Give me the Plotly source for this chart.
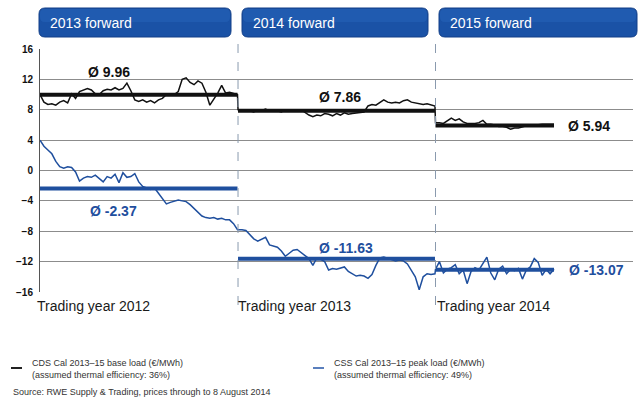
import plotly.graph_objects as go
import pandas as pd

# ---------------- data ----------------
periods = ["2013 forward", "2014 forward", "2015 forward"]
trading_years = ["Trading year 2012", "Trading year 2013", "Trading year 2014"]
section_start = ["2012-01-01", "2013-01-01", "2014-01-01"]
section_end = ["2012-12-31", "2013-12-31", "2014-08-08"]
y_ticks = [16, 12, 8, 4, 0, -4, -8, -12, -16]

cds_2013 = [10.0, 9.0, 8.7, 8.8, 8.6, 9.0, 9.2, 8.9, 10.1, 9.5, 10.4, 10.6, 10.8, 10.6, 10.1, 10.0, 10.5,
            10.7, 10.6, 10.9, 10.6, 10.8, 11.5, 10.5, 9.3, 9.1, 9.3, 9.0, 9.2, 8.9, 9.3, 9.5, 10.0, 10.1,
            10.0, 10.4, 12.0, 12.2, 11.6, 11.3, 11.8, 11.5, 10.3, 8.6, 9.4, 10.2, 11.2, 10.2, 10.3, 10.1, 10.0]
cds_2014 = [8.0, 7.8, 8.0, 7.9, 7.7, 8.0, 7.9, 8.1, 7.8, 8.0, 7.9, 7.7, 8.0, 7.9, 8.0, 7.8, 8.0, 7.6,
            7.3, 7.1, 7.3, 7.2, 7.5, 7.4, 7.2, 7.5, 7.3, 7.6, 7.4, 7.5, 7.6, 7.7, 7.7, 8.5, 8.7, 8.6, 8.9,
            9.3, 9.0, 8.9, 9.0, 8.9, 9.2, 9.3, 9.0, 8.9, 8.8, 8.7, 8.8, 8.6, 8.5]
cds_2015 = [6.3, 6.3, 6.2, 6.5, 6.9, 6.6, 6.8, 6.4, 6.2, 6.2, 6.2, 6.3, 6.6, 6.1, 6.1, 6.0, 5.8, 5.8,
            5.7, 5.45, 5.6, 5.6, 5.8, 5.9, 5.9, 6.0, 6.1, 6.1, 6.1, 6.1, 6.1]

css_2013 = [4.0, 3.2, 2.7, 2.2, 1.2, 0.5, 0.3, 0.5, 0.4, -0.2, -1.4, -1.0, -0.8, -0.9, -0.6, -1.1, -1.5,
            -0.8, -1.0, -0.5, -1.6, -0.3, -0.9, -0.8, -0.4, -1.5, -2.1, -2.3, -2.5, -2.3, -3.0, -3.6, -4.4,
            -4.2, -4.1, -3.9, -4.0, -4.1, -4.5, -5.0, -5.6, -6.0, -6.2, -6.3, -6.2, -6.4, -6.3, -6.5, -6.5,
            -7.0, -7.8]
css_2014 = [-7.8, -7.8, -7.9, -8.5, -9.0, -9.3, -9.0, -8.8, -9.8, -9.9, -10.1, -10.6, -11.3, -10.9, -10.5,
            -10.4, -10.8, -11.3, -11.6, -12.5, -11.5, -11.7, -12.0, -13.1, -12.9, -13.0, -12.9, -12.7, -13.3,
            -13.6, -13.9, -13.8, -13.9, -14.2, -13.7, -12.5, -11.5, -11.4, -11.6, -11.7, -11.9, -11.8, -11.9,
            -12.3, -13.2, -14.0, -15.7, -14.0, -13.6, -13.7, -13.6]
css_2015 = [-13.0, -12.0, -13.5, -13.0, -12.8, -12.4, -13.6, -13.1, -14.9, -13.3, -12.8, -13.1, -12.2,
            -11.4, -13.5, -14.4, -13.0, -12.6, -13.6, -13.0, -13.2, -12.9, -14.3, -13.1, -12.7, -11.6,
            -12.1, -13.8, -13.0, -13.6, -13.0]

cds_means = [9.96, 7.86, 5.94]
css_means = [-2.37, -11.63, -13.07]

legend_cds = "CDS Cal 2013–15 base load (€/MWh)<br>(assumed thermal efficiency: 36%)"
legend_css = "CSS Cal 2013–15 peak load (€/MWh)<br>(assumed thermal efficiency: 49%)"
source_text = "Source: RWE Supply & Trading, prices through to 8 August 2014"

# ---------------- styling ----------------
BLACK = "#111111"
BLUE = "#1f4f9e"
BOX = "#1a52a6"
BOX_TOP = "#2462b8"
FONT = "Liberation Sans, Arial, sans-serif"

W, H = 640, 399
L, R, T, B = 40, 7, 49, 107
PW, PH = W - L - R, H - T - B


def px(x):
    return (x - L) / PW


def py(y):
    return (H - B - y) / PH


cds_sections = [cds_2013, cds_2014, cds_2015]
css_sections = [css_2013, css_2014, css_2015]

x_all, cds_all, css_all = [], [], []
for s, e, c, b in zip(section_start, section_end, cds_sections, css_sections):
    d = pd.date_range(s, e, periods=len(c))
    x_all += list(d)
    cds_all += c
    css_all += b

fig = go.Figure()
fig.add_trace(go.Scatter(x=x_all, y=cds_all, mode="lines", line=dict(color=BLACK, width=1.5),
                         showlegend=False, hoverinfo="skip"))
fig.add_trace(go.Scatter(x=x_all, y=css_all, mode="lines", line=dict(color=BLUE, width=1.5),
                         showlegend=False, hoverinfo="skip"))
for s, e, m in zip(section_start, section_end, cds_means):
    fig.add_trace(go.Scatter(x=[s, e], y=[m, m], mode="lines", line=dict(color=BLACK, width=4),
                             showlegend=False, hoverinfo="skip"))
for s, e, m in zip(section_start, section_end, css_means):
    fig.add_trace(go.Scatter(x=[s, e], y=[m, m], mode="lines", line=dict(color=BLUE, width=4),
                             showlegend=False, hoverinfo="skip"))

shapes = []
# dashed dividers
for d in section_start[1:]:
    shapes.append(dict(type="line", xref="x", yref="paper", x0=d, x1=d, y0=py(305), y1=py(40),
                       line=dict(color="#8a9aae", width=1, dash="dash"), layer="above"))


def rounded(x0, x1, top, bot, r):
    rx, ry = r / PW, r / PH
    X0, X1, Y0, Y1 = px(x0), px(x1), py(bot), py(top)
    return (f"M {X0+rx},{Y1} L {X1-rx},{Y1} Q {X1},{Y1} {X1},{Y1-ry} L {X1},{Y0+ry} "
            f"Q {X1},{Y0} {X1-rx},{Y0} L {X0+rx},{Y0} Q {X0},{Y0} {X0},{Y0+ry} "
            f"L {X0},{Y1-ry} Q {X0},{Y1} {X0+rx},{Y1} Z")


# header boxes (rounded, with lighter upper part)
boxes = [(39, 231), (242, 428), (439, 637)]
for (x0, x1) in boxes:
    shapes.append(dict(type="path", xref="paper", yref="paper", path=rounded(x0, x1, 8, 37, 6),
                       fillcolor=BOX, line=dict(color="#123f88", width=1), layer="above"))
    shapes.append(dict(type="path", xref="paper", yref="paper", path=rounded(x0 + 1, x1 - 1, 9, 22, 5),
                       fillcolor=BOX_TOP, opacity=0.6, line=dict(width=0), layer="above"))

# legend dashes
shapes.append(dict(type="line", xref="paper", yref="paper", x0=px(11), x1=px(22), y0=py(368), y1=py(368),
                   line=dict(color="#222222", width=2)))
shapes.append(dict(type="line", xref="paper", yref="paper", x0=px(313), x1=px(324), y0=py(368), y1=py(368),
                   line=dict(color="#5a7fbd", width=2)))

ann = []
for (x0, x1), t in zip(boxes, periods):
    ann.append(dict(text=t, xref="paper", yref="paper", x=px(x0 + 9), y=py(23), xanchor="left",
                    yanchor="middle", showarrow=False, font=dict(family=FONT, size=14, color="white")))

tx = [35, 236, 435]
for x, t in zip(tx, trading_years):
    ann.append(dict(text=t, xref="paper", yref="paper", x=px(x), y=py(306), xanchor="left",
                    yanchor="middle", showarrow=False, font=dict(family=FONT, size=14, color="#1a1a1a")))

cds_lab_pos = [(109, 72), (340, 96.5), (589, 126)]
css_lab_pos = [(113, 211), (346, 247.5), (596, 270)]
for (x, y), m in zip(cds_lab_pos, cds_means):
    ann.append(dict(text=f"Ø {m:.2f}", xref="paper", yref="paper", x=px(x), y=py(y), xanchor="center",
                    yanchor="middle", showarrow=False,
                    font=dict(family=FONT, size=14, color=BLACK, weight="bold")))
for (x, y), m in zip(css_lab_pos, css_means):
    ann.append(dict(text=f"Ø {m:.2f}", xref="paper", yref="paper", x=px(x), y=py(y), xanchor="center",
                    yanchor="middle", showarrow=False,
                    font=dict(family=FONT, size=14, color=BLUE, weight="bold")))

ann.append(dict(text=legend_cds, xref="paper", yref="paper", x=px(30), y=py(368.5), xanchor="left",
                yanchor="middle", align="left", showarrow=False,
                font=dict(family=FONT, size=9, color="#333333")))
ann.append(dict(text=legend_css, xref="paper", yref="paper", x=px(332), y=py(368.5), xanchor="left",
                yanchor="middle", align="left", showarrow=False,
                font=dict(family=FONT, size=9, color="#333333")))
ann.append(dict(text=source_text, xref="paper", yref="paper", x=px(11), y=py(392), xanchor="left",
                yanchor="middle", align="left", showarrow=False,
                font=dict(family=FONT, size=9, color="#333333")))

fig.update_layout(
    width=W, height=H,
    margin=dict(l=L, r=R, t=T, b=B),
    paper_bgcolor="white", plot_bgcolor="white",
    shapes=shapes, annotations=ann,
    xaxis=dict(type="date", range=["2012-01-01", "2015-01-01"], showgrid=False, showticklabels=False,
               ticks="", zeroline=False, showline=False, fixedrange=True),
    yaxis=dict(range=[-16, 16], tickvals=y_ticks, showgrid=True, gridcolor="#8c8c8c", gridwidth=1,
               zeroline=False, showline=True, linecolor="#555555", linewidth=1, ticks="",
               ticklabelstandoff=4,
               tickfont=dict(family=FONT, size=10, color="#111111", weight="bold"), fixedrange=True),
    showlegend=False,
)

fig.write_html("out.html", config={"displayModeBar": False},
               post_script="document.body.style.margin='0';document.body.style.overflow='hidden';")
